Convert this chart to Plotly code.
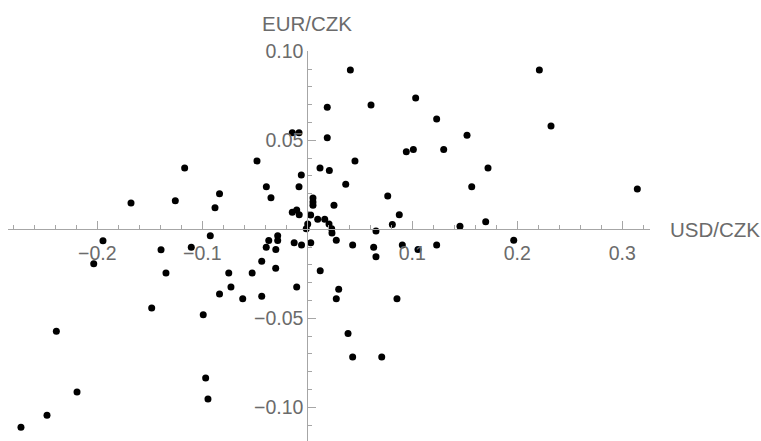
import plotly.graph_objects as go

# Daily log-returns of the koruna against the dollar and the euro
usd_czk = [
    0.0410, 0.0607, 0.0190, -0.0143, -0.0079, 0.0190, -0.0479, 0.0454, -0.1168, 0.0121,
    0.0210, -0.0057, -0.0390, -0.0079, 0.0366, -0.0836, -0.1679, -0.1257, -0.0879, -0.0346,
    0.0054, 0.0054, 0.0054, 0.0254, 0.2210, 0.1032, 0.1232, 0.1521, 0.2321, 0.0943,
    0.1010, 0.1299, 0.1721, 0.1566, 0.3143, 0.0766, 0.0876, 0.1699, -0.0143, -0.0101,
    -0.0077, 0.0032, 0.0099, 0.0166, 0.0207, 0.0232, 0.0235, 0.0004, -0.0010, 0.0810,
    0.1454, 0.0654, 0.0276, 0.0432, 0.0632, 0.0654, 0.0905, 0.1054, 0.1232, 0.1966,
    -0.1946, -0.2034, -0.1393, -0.1346, -0.1105, -0.0924, -0.1482, -0.2390, -0.0991, -0.0968,
    -0.0946, -0.2193, -0.2479, -0.2727, -0.0836, -0.0748, -0.0727, -0.0615, -0.0525, -0.0434,
    -0.0434, -0.0391, -0.0367, -0.0300, -0.0282, -0.0282, -0.0301, -0.0125, -0.0055, -0.0101,
    0.0033, 0.0123, 0.0276, 0.0299, 0.0388, 0.0432, 0.0709, 0.0854,
]
eur_czk = [
    0.0895, 0.0698, 0.0685, 0.0543, 0.0543, 0.0515, 0.0384, 0.0384, 0.0344, 0.0344,
    0.0331, 0.0305, 0.0239, 0.0239, 0.0253, 0.0200, 0.0148, 0.0161, 0.0121, 0.0177,
    0.0176, 0.0153, 0.0135, 0.0135, 0.0895, 0.0738, 0.0620, 0.0528, 0.0580, 0.0436,
    0.0449, 0.0449, 0.0344, 0.0239, 0.0226, 0.0187, 0.0082, 0.0043, 0.0096, 0.0108,
    0.0082, 0.0081, 0.0056, 0.0056, 0.0030, 0.0003, -0.0021, 0.0030, 0.0003, 0.0027,
    0.0017, -0.0010, -0.0062, -0.0088, -0.0101, -0.0154, -0.0088, -0.0113, -0.0088, -0.0062,
    -0.0064, -0.0193, -0.0115, -0.0246, -0.0101, -0.0036, -0.0442, -0.0573, -0.0480, -0.0835,
    -0.0953, -0.0914, -0.1045, -0.1112, -0.0363, -0.0246, -0.0324, -0.0390, -0.0246, -0.0180,
    -0.0376, -0.0101, -0.0063, -0.0113, -0.0036, -0.0063, -0.0219, -0.0075, -0.0088, -0.0324,
    -0.0075, -0.0233, -0.0390, -0.0337, -0.0585, -0.0717, -0.0717, -0.0390,
]

x_ticks = [-0.2, -0.1, 0.1, 0.2, 0.3]
x_tick_text = ["\u22120.2", "\u22120.1", "0.1", "0.2", "0.3"]
y_ticks = [-0.10, -0.05, 0.05, 0.10]
y_tick_text = ["\u22120.10", "\u22120.05", "0.05", "0.10"]

W, H = 761, 441
x_range = [-0.28476, 0.32638]
y_range = [-0.11893, 0.10]
x_domain = [8.3 / W, 650 / W]
y_domain = [0.0, 1 - 51.3 / H]

# paper positions where each axis crosses the other's zero
x_axis_pos = y_domain[0] + (0 - y_range[0]) / (y_range[1] - y_range[0]) * (y_domain[1] - y_domain[0])
y_axis_pos = x_domain[0] + (0 - x_range[0]) / (x_range[1] - x_range[0]) * (x_domain[1] - x_domain[0])

axis_grey = "#a6a6a6"
text_grey = "#6b6b6b"
font_family = "Liberation Sans, Arial, sans-serif"

fig = go.Figure(
    go.Scatter(
        x=usd_czk,
        y=eur_czk,
        mode="markers",
        marker=dict(color="black", size=7, line=dict(width=0)),
        cliponaxis=False,
        hoverinfo="skip",
    )
)

common_axis = dict(
    anchor="free",
    automargin=False,
    showgrid=False,
    zeroline=False,
    showline=True,
    linecolor=axis_grey,
    linewidth=1,
    ticks="inside",
    ticklen=8,
    tickwidth=1,
    tickcolor=axis_grey,
    tickfont=dict(size=19.5, color=text_grey),
)

fig.update_layout(
    width=W,
    height=H,
    autosize=False,
    margin=dict(l=0, r=0, t=0, b=0, pad=0, autoexpand=False),
    paper_bgcolor="white",
    plot_bgcolor="white",
    showlegend=False,
    font=dict(family=font_family, color=text_grey, size=19.5),
    xaxis=dict(
        common_axis,
        range=x_range,
        domain=x_domain,
        position=x_axis_pos,
        tickvals=x_ticks,
        ticktext=x_tick_text,
        ticklabelstandoff=6,
        minor=dict(ticks="inside", dtick=0.02, tick0=0, ticklen=4, tickwidth=1,
                   tickcolor=axis_grey, showgrid=False),
    ),
    yaxis=dict(
        common_axis,
        range=y_range,
        domain=y_domain,
        position=y_axis_pos,
        tickvals=y_ticks,
        ticktext=y_tick_text,
        minor=dict(ticks="inside", dtick=0.01, tick0=0, ticklen=4, tickwidth=1,
                   tickcolor=axis_grey, showgrid=False),
    ),
    annotations=[
        dict(text="EUR/CZK", x=0, xref="x", y=1 - 23 / H, yref="paper",
             xanchor="center", yanchor="middle", showarrow=False,
             font=dict(size=20.5, color=text_grey)),
        dict(text="USD/CZK", x=668 / W, xref="paper", y=0, yref="y",
             xanchor="left", yanchor="middle", showarrow=False,
             font=dict(size=20.5, color=text_grey)),
    ],
)

fig.write_html("out.html")
